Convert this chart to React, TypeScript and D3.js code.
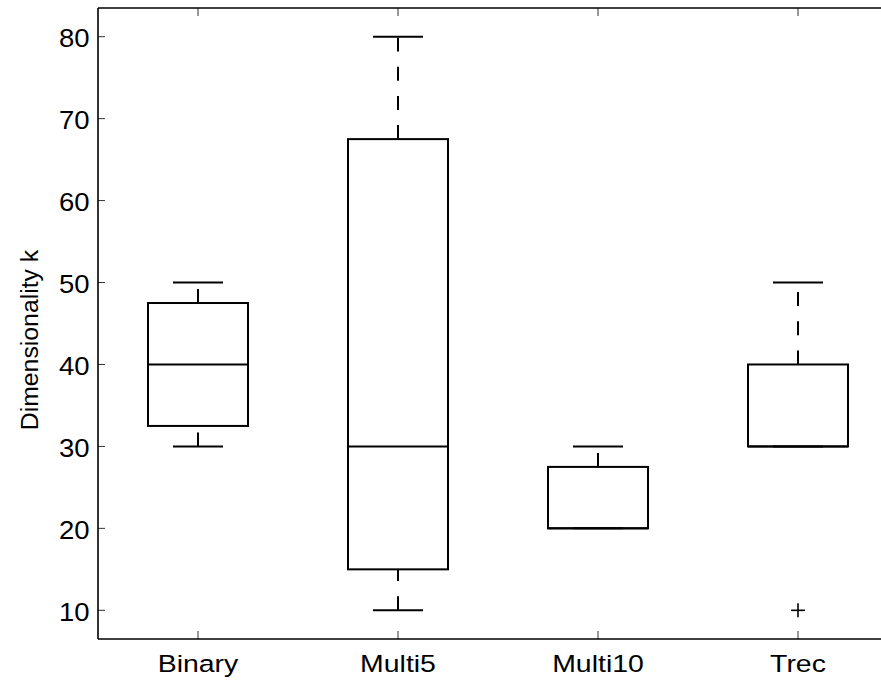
import React from "react";
import * as d3 from "d3";

const categories = ["Binary", "Multi5", "Multi10", "Trec"];
const lowerWhisker = [30, 10, 20, 30];
const q1 = [32.5, 15, 20, 30];
const median = [40, 30, 20, 30];
const q3 = [47.5, 67.5, 27.5, 40];
const upperWhisker = [50, 80, 30, 50];
const outliers: { cat: number; value: number }[] = [{ cat: 3, value: 10 }];
const yTicks = [10, 20, 30, 40, 50, 60, 70, 80];

const W = 881;
const H = 681;
const left = 98;
const right = 898;
const top = 8;
const bottom = 639;

export default function App() {
  const x = d3.scaleLinear().domain([0.5, 4.5]).range([left, right]);
  const y = d3.scaleLinear().domain([6.5, 83.5]).range([bottom, top]);
  const boxHalf = (x(1) - x(0)) / 4;
  const capHalf = boxHalf / 2;
  const font = "Liberation Sans, Arial, Helvetica, sans-serif";
  const sw = 2;

  return (
    <div style={{ position: "fixed", left: 0, top: 0 }}>
      <svg width={W} height={H} style={{ display: "block", background: "#fff" }}>
        {/* ticks */}
        {yTicks.map((t) => (
          <g key={t}>
            <line x1={left} x2={left + 7} y1={y(t)} y2={y(t)} stroke="#333" strokeWidth={1} />
            <text
              transform={`translate(${left - 8.5}, ${y(t)}) scale(1.1,1)`}
              dy="0.42em"
              textAnchor="end"
              fontFamily={font}
              fontSize={25}
            >
              {t}
            </text>
          </g>
        ))}
        {categories.map((c, i) => (
          <g key={c}>
            <line x1={x(i + 1)} x2={x(i + 1)} y1={bottom} y2={bottom - 8} stroke="#333" strokeWidth={1} />
            <line x1={x(i + 1)} x2={x(i + 1)} y1={top} y2={top + 8} stroke="#333" strokeWidth={1} />
            <text
              transform={`translate(${x(i + 1)}, 672) scale(1.17,1)`}
              textAnchor="middle"
              fontFamily={font}
              fontSize={24.3}
            >
              {c}
            </text>
          </g>
        ))}
        {/* axes box */}
        <line x1={left} x2={W + 20} y1={top} y2={top} stroke="#000" strokeWidth={1.3} />
        <line x1={left} x2={W + 20} y1={bottom} y2={bottom} stroke="#000" strokeWidth={1.5} />
        <line x1={left} x2={left} y1={top} y2={bottom} stroke="#000" strokeWidth={1.6} />
        <text
          transform={`translate(38, 340) rotate(-90)`}
          textAnchor="middle"
          fontFamily={font}
          fontSize={24.8}
        >
          Dimensionality k
        </text>
        {/* boxes */}
        {categories.map((c, i) => {
          const cx = x(i + 1);
          return (
            <g key={c} stroke="#000" strokeWidth={sw} fill="none">
              <line x1={cx} x2={cx} y1={y(q3[i])} y2={y(upperWhisker[i])} strokeDasharray="14,15.2" />
              <line x1={cx} x2={cx} y1={y(lowerWhisker[i])} y2={y(q1[i])} strokeDasharray="14,15.2" />
              <line x1={cx - capHalf} x2={cx + capHalf} y1={y(upperWhisker[i])} y2={y(upperWhisker[i])} />
              <line x1={cx - capHalf} x2={cx + capHalf} y1={y(lowerWhisker[i])} y2={y(lowerWhisker[i])} />
              <rect x={cx - boxHalf} y={y(q3[i])} width={boxHalf * 2} height={y(q1[i]) - y(q3[i])} />
              <line x1={cx - boxHalf} x2={cx + boxHalf} y1={y(median[i])} y2={y(median[i])} />
            </g>
          );
        })}
        {outliers.map((o, k) => {
          const cx = x(o.cat + 1);
          const cy = y(o.value);
          return (
            <g key={k} stroke="#000" strokeWidth={1.6}>
              <line x1={cx - 7} x2={cx + 7} y1={cy} y2={cy} />
              <line x1={cx} x2={cx} y1={cy - 7} y2={cy + 7} />
            </g>
          );
        })}
      </svg>
    </div>
  );
}
